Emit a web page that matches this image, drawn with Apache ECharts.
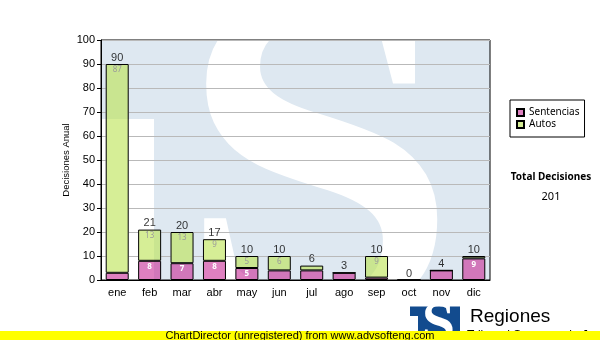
<!DOCTYPE html>
<html>
<head>
<meta charset="utf-8">
<script src="https://cdn.jsdelivr.net/npm/echarts@6/dist/echarts.min.js"></script>
<style>
  html, body { margin: 0; padding: 0; background: #ffffff; }
  #chart { width: 600px; height: 340px; }
</style>
</head>
<body>
<div id="chart"></div>
<script>
// Monthly decisions, split by type
const months = ['ene', 'feb', 'mar', 'abr', 'may', 'jun', 'jul', 'ago', 'sep', 'oct', 'nov', 'dic'];
const sentencias = [3, 8, 7, 8, 5, 4, 4, 3, 1, 0, 4, 9];
const autos = [87, 13, 13, 9, 5, 6, 2, 0, 9, 0, 0, 1];
const totals = [90, 21, 20, 17, 10, 10, 6, 3, 10, 0, 4, 10];
const yMin = 0;
const yMax = 100;
const yStep = 10;
const grandTotal = 201;

const seriesNames = ['Sentencias', 'Autos'];
const axisFont = '"Liberation Sans", Arial, sans-serif';
const smallFont = '"Noto Sans", Tahoma, sans-serif';

// plot rectangle in pixels
const plot = { left: 101, top: 40, right: 490, bottom: 280 };
const barWidth = 23;

// Plot-area watermark: pale blue field with a white gap under the "T" bar and a large white S.
function buildWatermark() {
  const c = document.createElement('canvas');
  c.width = 600;
  c.height = 340;
  const g = c.getContext('2d');
  g.save();
  g.beginPath();
  g.rect(plot.left, plot.top, plot.right - plot.left, plot.bottom - plot.top);
  g.clip();
  g.fillStyle = '#dee8f1';
  g.fillRect(plot.left, plot.top, plot.right - plot.left, plot.bottom - plot.top);
  g.fillStyle = '#ffffff';
  g.fillRect(plot.left, 119, 154 - plot.left, plot.bottom - 119);
  g.translate(318, 191);
  g.scale(1.07, 1);
  g.font = 'bold 473px "Liberation Serif", "Times New Roman", serif';
  g.textAlign = 'center';
  g.textBaseline = 'middle';
  g.fillText('S', 0, 0);
  g.restore();
  return c;
}
const watermarkCanvas = buildWatermark();

const chart = echarts.init(document.getElementById('chart'), null, { renderer: 'canvas' });

const innerLabel = (color, weight) => ({
  show: true,
  position: 'insideTop',
  distance: 2,
  color: color,
  fontFamily: smallFont,
  fontSize: 8,
  fontWeight: weight,
  formatter: p => (p.value >= 5 ? String(p.value) : '')
});

chart.setOption({
  animation: false,
  backgroundColor: '#ffffff',
  grid: {
    left: plot.left,
    top: plot.top,
    width: plot.right - plot.left,
    height: plot.bottom - plot.top,
    show: true,
    backgroundColor: 'transparent',
    borderColor: '#000000',
    borderWidth: 1,
    containLabel: false
  },
  legend: {
    data: seriesNames,
    orient: 'vertical',
    left: 510,
    top: 100,
    icon: 'rect',
    itemWidth: 7,
    itemHeight: 7,
    itemGap: 1,
    padding: [7, 5, 7, 6],
    backgroundColor: '#ffffff',
    borderColor: '#000000',
    borderWidth: 1,
    borderRadius: 0,
    selectedMode: false,
    textStyle: { fontFamily: smallFont, fontSize: 10, color: '#000000', lineHeight: 11 }
  },
  xAxis: {
    type: 'category',
    data: months,
    axisLine: { lineStyle: { color: '#000000', width: 1 } },
    axisTick: { alignWithLabel: true, length: 4, lineStyle: { color: '#000000' } },
    axisLabel: { color: '#000000', fontFamily: axisFont, fontSize: 11, margin: 7 },
    splitLine: { show: false }
  },
  yAxis: {
    type: 'value',
    min: yMin,
    max: yMax,
    interval: yStep,
    name: 'Decisiones Anual',
    nameLocation: 'middle',
    nameGap: 30,
    nameMoveOverlap: false,
    nameTextStyle: { color: '#000000', fontFamily: axisFont, fontSize: 9.5 },
    axisLine: { show: true, lineStyle: { color: '#000000', width: 1 } },
    axisTick: { show: true, length: 4, lineStyle: { color: '#000000' } },
    axisLabel: { color: '#000000', fontFamily: axisFont, fontSize: 11, margin: 6 },
    splitLine: { show: true, lineStyle: { color: '#b9b9b9', width: 1 } }
  },
  series: [
    {
      // backing behind each column: repaints the watermark so gridlines stay hidden
      name: 'fondo',
      type: 'custom',
      silent: true,
      z: 1,
      data: totals.map((t, i) => [i, t]),
      encode: { x: 0, y: 1 },
      renderItem: (params, api) => {
        const top = api.coord([api.value(0), api.value(1)]);
        const base = api.coord([api.value(0), 0]);
        return {
          type: 'rect',
          shape: { x: top[0] - barWidth / 2, y: top[1], width: barWidth, height: base[1] - top[1] },
          style: { fill: { image: watermarkCanvas, repeat: 'no-repeat' } }
        };
      }
    },
    {
      name: seriesNames[0],
      type: 'bar',
      stack: 'decisiones',
      data: sentencias,
      barWidth: barWidth,
      itemStyle: { color: 'rgba(200,43,150,0.6)', borderColor: '#000000', borderWidth: 1 },
      label: innerLabel('#ffffff', 'bold'),
      z: 3
    },
    {
      name: seriesNames[1],
      type: 'bar',
      stack: 'decisiones',
      data: autos,
      barWidth: barWidth,
      itemStyle: { color: 'rgba(187,227,80,0.6)', borderColor: '#000000', borderWidth: 1 },
      label: innerLabel('#9a9a9a', 'normal'),
      z: 3
    },
    {
      name: 'Total',
      type: 'scatter',
      data: totals,
      symbolSize: 0,
      silent: true,
      label: {
        show: true,
        position: 'top',
        distance: 1,
        color: '#000000',
        fontFamily: axisFont,
        fontSize: 11,
        formatter: p => String(p.value)
      },
      z: 6
    }
  ],
  graphic: {
    elements: [
      {
        type: 'image', z: -12, silent: true,
        style: { image: watermarkCanvas, x: 0, y: 0, width: 600, height: 340 }
      },
      // footer logo
      {
        type: 'rect', z: 60, silent: true,
        shape: { x: 410, y: 306.5, width: 50, height: 34 },
        style: { fill: '#124b8e' }
      },
      {
        type: 'rect', z: 61, silent: true,
        shape: { x: 410, y: 316, width: 8, height: 24 },
        style: { fill: '#ffffff' }
      },
      {
        type: 'text', z: 61, silent: true,
        x: 438.5, y: 327, scaleX: 1.07,
        style: {
          text: 'S', x: 0, y: 0,
          font: 'bold 56px "Liberation Serif", "Times New Roman", serif',
          fill: '#ffffff', align: 'center', verticalAlign: 'middle'
        }
      },
      {
        type: 'text', z: 61, silent: true,
        style: {
          text: 'Regiones', x: 470, y: 307.5,
          font: '19px "Liberation Sans", Arial, sans-serif',
          fill: '#000000', align: 'left', verticalAlign: 'top'
        }
      },
      {
        type: 'text', z: 61, silent: true,
        style: {
          text: 'Tribunal Supremo de Justicia', x: 467, y: 330,
          font: '12px "Liberation Sans", Arial, sans-serif',
          fill: '#000000', align: 'left', verticalAlign: 'top'
        }
      },
      // unregistered-library footer band
      {
        type: 'rect', z: 70, silent: true,
        shape: { x: 0, y: 331, width: 600, height: 9 },
        style: { fill: '#ffff00' }
      },
      {
        type: 'text', z: 71, silent: true,
        style: {
          text: 'ChartDirector (unregistered) from www.advsofteng.com', x: 300, y: 335.5,
          font: '11px "Liberation Sans", Arial, sans-serif',
          fill: '#000000', align: 'center', verticalAlign: 'middle'
        }
      },
      // side summary
      {
        type: 'text', z: 5, silent: true,
        style: {
          text: 'Total Decisiones', x: 551, y: 177,
          font: 'bold 10px "Noto Sans", Tahoma, sans-serif',
          fill: '#000000', align: 'center', verticalAlign: 'middle'
        }
      },
      {
        type: 'text', z: 5, silent: true,
        style: {
          text: String(grandTotal), x: 551, y: 197,
          font: '11px "Noto Sans", Tahoma, sans-serif',
          fill: '#000000', align: 'center', verticalAlign: 'middle'
        }
      }
    ]
  }
});
</script>
</body>
</html>
